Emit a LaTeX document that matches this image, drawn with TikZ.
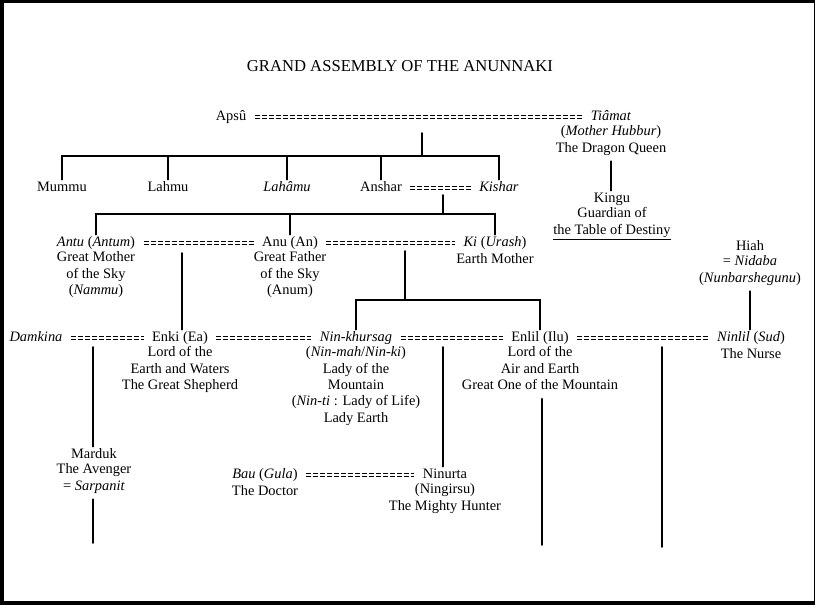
\documentclass[tikz,border=0pt]{standalone}
\usepackage{fontspec}
\setmainfont{Liberation Serif}
\usetikzlibrary{positioning}
\tikzset{
  god/.style={inner sep=0pt, text height=9.8pt, text depth=4.2pt},
  about/.style={inner sep=0pt, align=center, execute at begin node=\strut},
  wed/.style={double, double distance=0.33mm, line width=0.33mm, line cap=butt,
    dash pattern=on 1.5mm off 0.6mm, shorten <=2.5mm, shorten >=2.5mm},
  kin/.style={line width=0.55mm},
}
\begin{document}
\begin{tikzpicture}[x=0.3mm, y=-0.3mm, font=\fontsize{12.3}{14}\selectfont, line cap=round]
\fill (0,0) rectangle (815,605);
\fill[white] (4,3) rectangle (814,601);
\node (title) at (400,66) {\fontsize{14.2}{16}\selectfont GRAND ASSEMBLY OF THE ANUNNAKI};

\node[god] (apsu) at (231,117) {Apsû};
\node[god] (tiamat) at (611,117) {\textit{Tiâmat}};
\node[about, below=0pt of tiamat] (tiamat-d) {(\textit{Mother Hubbur})\\The Dragon Queen};
\node[god] (kingu) at (612,199) {Kingu};
\node[about, below=0pt of kingu] (kingu-d) {Guardian of\\\underline{the Table of Destiny}};

\node[god] (mummu) at (62,188) {Mummu};
\node[god] (lahmu) at (168,188) {Lahmu};
\node[god] (lahamu) at (287,188) {\textit{Lahâmu}};
\node[god] (anshar) at (381,188) {Anshar};
\node[god] (kishar) at (499,188) {\textit{Kishar}};

\node[god] (antu) at (96,243) {\textit{Antu} (\textit{Antum})};
\node[about, below=0pt of antu] (antu-d) {Great Mother\\of the Sky\\(\textit{Nammu})};
\node[god] (anu) at (290,243) {Anu (An)};
\node[about, below=0pt of anu] (anu-d) {Great Father\\of the Sky\\(Anum)};
\node[god] (ki) at (495,243) {\textit{Ki} (\textit{Urash})};
\node[about, below=0pt of ki] (ki-d) {Earth Mother};
\node[god] (hiah) at (750,247) {Hiah};
\node[about, below=0pt of hiah] (hiah-d) {= \textit{Nidaba}\\(\textit{Nunbarshegunu})};

\node[god] (damkina) at (36,338) {\textit{Damkina}};
\node[god] (enki) at (180,338) {Enki (Ea)};
\node[about, below=0pt of enki] (enki-d) {Lord of the\\Earth and Waters\\The Great Shepherd};
\node[god] (ninkhursag) at (356,338) {\textit{Nin-khursag}};
\node[about, below=0pt of ninkhursag] (ninkhursag-d) {(\textit{Nin-mah}/\textit{Nin-ki})\\Lady of the\\Mountain\\(\textit{Nin-ti} : Lady of Life)\\Lady Earth};
\node[god] (enlil) at (540,338) {Enlil (Ilu)};
\node[about, below=0pt of enlil] (enlil-d) {Lord of the\\Air and Earth\\Great One of the Mountain};
\node[god] (ninlil) at (751,338) {\textit{Ninlil} (\textit{Sud})};
\node[about, below=0pt of ninlil] (ninlil-d) {The Nurse};

\node[god] (marduk) at (94,455) {Marduk};
\node[about, below=0pt of marduk] (marduk-d) {The Avenger\\= \textit{Sarpanit}};
\node[god] (bau) at (265,475) {\textit{Bau} (\textit{Gula})};
\node[about, below=0pt of bau] (bau-d) {The Doctor};
\node[god] (ninurta) at (445,475) {Ninurta};
\node[about, below=0pt of ninurta] (ninurta-d) {(Ningirsu)\\The Mighty Hunter};

\coordinate (c1) at (422,133);
\coordinate (r1) at (422,156);
\coordinate (c2) at (443,195);
\coordinate (r2) at (443,214);
\coordinate (c3) at (182,253);
\coordinate (c4) at (405,251);
\coordinate (r4) at (405,300);
\coordinate (c5) at (93,347);
\coordinate (e5) at (93,543);
\coordinate (c6) at (443,347);
\coordinate (c7) at (662,347);
\coordinate (e7) at (662,547);
\coordinate (e8) at (542,545);

\draw[wed] (apsu) -- (tiamat);
\draw[wed] (anshar) -- (kishar);
\draw[wed] (antu) -- (anu);
\draw[wed] (anu) -- (ki);
\draw[wed] (damkina) -- (enki);
\draw[wed] (enki) -- (ninkhursag);
\draw[wed] (ninkhursag) -- (enlil);
\draw[wed] (enlil) -- (ninlil);
\draw[wed] (bau) -- (ninurta);

\begin{scope}[kin]
\draw (c1) -- (r1);
\draw (mummu) |- (r1) -| (kishar);
\foreach \g in {lahmu,lahamu,anshar}
  \draw (\g) -- (\g |- r1);
\draw[shorten <=1.2mm] (tiamat-d.south) -- (tiamat-d.south |- kingu.north);
\draw (c2) -- (r2);
\draw (antu) |- (r2) -| (ki);
\draw (anu) -- (anu |- r2);
\draw (c3) -- (c3 |- enki.north);
\draw (c4) -- (r4);
\draw (ninkhursag) |- (r4) -| (enlil);
\draw[shorten <=1.2mm] (hiah-d.south) -- (hiah-d.south |- ninlil.north);
\draw (c5) -- (c5 |- marduk.north);
\draw[shorten <=1.2mm] (marduk-d.south -| e5) -- (e5);
\draw (c6) -- (c6 |- ninurta.north);
\draw (c7) -- (e7);
\draw[shorten <=1.2mm] (enlil-d.south -| e8) -- (e8);
\end{scope}
\end{tikzpicture}
\end{document}
